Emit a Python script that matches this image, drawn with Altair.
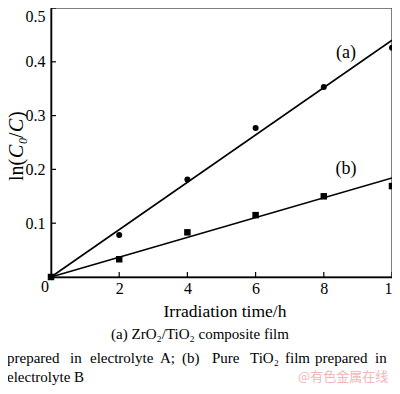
import altair as alt
import pandas as pd

# ---- data ----
times = [0, 2, 4, 6, 8, 10]
series_a = [0.0, 0.078, 0.181, 0.277, 0.353, 0.426]   # (a) circles
series_b = [0.0, 0.033, 0.083, 0.115, 0.150, 0.169]  # (b) squares
fit_x = [0, 10]
fit_a = [0.0, 0.44]
fit_b = [0.0, 0.184]
x_ticks = [2, 4, 6, 8, 10]
y_ticks = [0.1, 0.2, 0.3, 0.4, 0.5]

SERIF = "Liberation Serif"
W, H = 341, 269

pts_a = pd.DataFrame({"t": times, "v": series_a})
pts_b = pd.DataFrame({"t": times, "v": series_b})
line_a = pd.DataFrame({"t": fit_x, "v": fit_a})
line_b = pd.DataFrame({"t": fit_x, "v": fit_b})

xs = alt.Scale(domain=[0, 10], nice=False, zero=False)
ys = alt.Scale(domain=[0, 0.5], nice=False, zero=False)

xenc = alt.X("t:Q", scale=xs, axis=alt.Axis(
    values=x_ticks, title=None, grid=False, ticks=False, labelFont=SERIF,
    labelFontSize=16, labelColor="black", labelPadding=3, domainColor="black",
    domainWidth=1.5, labelFlush=False))
yenc = alt.Y("v:Q", scale=ys, axis=alt.Axis(
    values=y_ticks, title=None, grid=False, ticks=False, labelFont=SERIF,
    labelFontSize=16, labelColor="black", labelPadding=6, domainColor="black",
    domainWidth=1.5, format=".1f", labelFlush=True))

lines = (alt.Chart(line_a).mark_line(color="black", strokeWidth=1.6).encode(x=xenc, y=yenc)
         + alt.Chart(line_b).mark_line(color="black", strokeWidth=1.6).encode(x="t:Q", y="v:Q"))
circles = alt.Chart(pts_a).mark_point(shape="circle", filled=True, color="black", size=36, opacity=1).encode(x="t:Q", y="v:Q")
squares = alt.Chart(pts_b).mark_point(shape="square", filled=True, color="black", size=42, opacity=1).encode(x="t:Q", y="v:Q")

# inward ticks
xt = alt.Chart(pd.DataFrame({"t": x_ticks})).mark_rule(color="black", strokeWidth=1.2).encode(
    x="t:Q", y=alt.value(H), y2=alt.value(H - 5))
yt = alt.Chart(pd.DataFrame({"v": y_ticks})).mark_rule(color="black", strokeWidth=1.2).encode(
    y="v:Q", x=alt.value(0), x2=alt.value(5))


def txt(text, x, y, size=16, align="center", angle=0, font=SERIF, color="black",
        style=None, baseline="middle"):
    kw = dict(text=text, font=font, fontSize=size, align=align, baseline=baseline, color=color)
    if angle:
        kw["angle"] = angle
    if style:
        kw["fontStyle"] = style
    return alt.Chart(pd.DataFrame({"a": [0]})).mark_text(**kw).encode(x=alt.value(x), y=alt.value(y))


TX = -28  # baseline x of rotated y title
labels = [
    txt("0", -6, 279),
    txt("(a)", 295, 45, size=18),
    txt("(b)", 295, 161, size=18),
    txt("Irradiation time/h", 174, 304, size=17.5),
    # y title ln(C0/C), rotated, built from pieces
    txt("ln(", TX, 173, size=20, align="left", angle=270, baseline="alphabetic"),
    txt("C", TX, 150, size=20, align="left", angle=270, baseline="alphabetic", style="italic"),
    txt("0", TX + 4, 136, size=12, align="left", angle=270, baseline="alphabetic", style="italic"),
    txt("/", TX, 130, size=20, align="left", angle=270, baseline="alphabetic"),
    txt("C", TX, 124, size=20, align="left", angle=270, baseline="alphabetic", style="italic"),
    txt(")", TX, 110, size=20, align="left", angle=270, baseline="alphabetic"),
    txt("(a) ZrO\u2082/TiO\u2082 composite film", 149, 326, size=15),
    txt("electrolyte B", -44, 369, size=15, align="left"),
    txt("@有色金属在线", 247, 369, size=13, align="left", font="Noto Sans CJK SC", color="#f2b6b6"),
]
words = ["prepared", "in", "electrolyte", "A;", "(b)", "Pure", "TiO\u2082", "film", "prepared", "in"]
word_x = [7, 70, 90, 160, 182, 212, 250, 285, 315, 375]
for w, px in zip(words, word_x):
    labels.append(txt(w, px - 51, 350, size=15, align="left"))

chart = alt.layer(lines, circles, squares, xt, yt, *labels).properties(
    width=W, height=H,
    autosize=alt.AutoSizeParams(type="none"),
    padding={"left": 43, "top": 0, "right": 0, "bottom": 109},
).configure_view(stroke="#555555", strokeWidth=1.5)

chart.save("out.html", embed_options={"renderer": "svg", "actions": False})
